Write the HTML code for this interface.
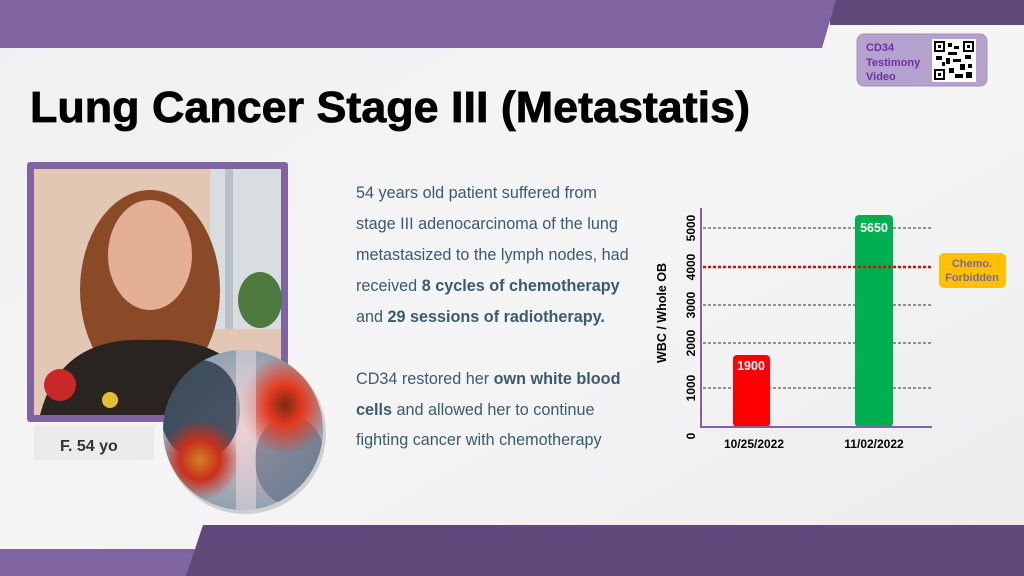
<!DOCTYPE html>
<html><head><meta charset="utf-8"><style>
html,body{margin:0;padding:0;width:1024px;height:576px;overflow:hidden;background:#f2f2f3;}
svg{display:block}
</style></head><body>
<svg width="1024" height="576" viewBox="0 0 1024 576" xmlns="http://www.w3.org/2000/svg" font-family="Liberation Sans, sans-serif">
<defs>
<linearGradient id="bg" x1="0" y1="0" x2="1" y2="1"><stop offset="0" stop-color="#f0f0f1"/><stop offset="0.5" stop-color="#f5f5f6"/><stop offset="1" stop-color="#ececee"/></linearGradient>
<radialGradient id="xr" cx="0.5" cy="0.5" r="0.5">
<stop offset="0" stop-color="#e8c0c4"/><stop offset="1" stop-color="#8fa0b0"/></radialGradient>
<radialGradient id="tum1" cx="0.5" cy="0.5" r="0.5"><stop offset="0" stop-color="#7a2a10"/><stop offset="0.4" stop-color="#e43a20"/><stop offset="1" stop-color="#e43a20" stop-opacity="0"/></radialGradient>
<radialGradient id="tum2" cx="0.5" cy="0.5" r="0.5"><stop offset="0" stop-color="#d08020"/><stop offset="0.5" stop-color="#c83020"/><stop offset="1" stop-color="#c83020" stop-opacity="0"/></radialGradient>
<clipPath id="cc"><circle cx="243" cy="430" r="80"/></clipPath>
</defs>
<rect width="1024" height="576" fill="url(#bg)"/>
<polygon points="830,0 1024,0 1024,25 830,25" fill="#604a7b"/>
<polygon points="0,0 836,0 822,48 0,48" fill="#8064a2"/>
<rect x="0" y="549" width="200" height="27" fill="#8064a2"/>
<polygon points="203,525 1024,525 1024,576 186,576" fill="#604a7b"/>
<rect x="857" y="34" width="130" height="52" rx="7" fill="#b4a1cd" stroke="#a58fc2"/>
<text font-family="Liberation Sans, sans-serif" font-weight="bold" font-size="11" fill="#7030a0"><tspan x="866" y="51">CD34</tspan><tspan x="866" y="66">Testimony</tspan><tspan x="866" y="80">Video</tspan></text>
<rect x="932" y="39" width="44" height="43" fill="#fff"/>
<g fill="#000">
<rect x="934" y="41" width="11" height="11"/><rect x="963" y="41" width="11" height="11"/><rect x="934" y="69" width="11" height="11"/>
<rect x="948" y="43" width="4" height="4"/><rect x="954" y="46" width="5" height="3"/><rect x="948" y="52" width="9" height="3"/><rect x="936" y="56" width="6" height="4"/><rect x="946" y="58" width="4" height="6"/><rect x="953" y="59" width="8" height="3"/><rect x="965" y="55" width="6" height="4"/><rect x="960" y="64" width="5" height="6"/><rect x="968" y="64" width="4" height="4"/><rect x="949" y="68" width="5" height="5"/><rect x="955" y="74" width="8" height="4"/><rect x="966" y="72" width="6" height="6"/><rect x="942" y="62" width="3" height="4"/>
</g>
<g fill="#fff"><rect x="936" y="43" width="7" height="7"/><rect x="965" y="43" width="7" height="7"/><rect x="936" y="71" width="7" height="7"/></g>
<g fill="#000"><rect x="938" y="45" width="3" height="3"/><rect x="967" y="45" width="3" height="3"/><rect x="938" y="73" width="3" height="3"/></g>
<text x="30" y="122" font-size="44" font-weight="bold" fill="#000" stroke="#000" stroke-width="0.8" textLength="720" lengthAdjust="spacingAndGlyphs">Lung Cancer Stage III (Metastatis)</text>
<rect x="27" y="162" width="261" height="260" rx="3" fill="#8064a2"/>
<rect x="34" y="169" width="247" height="246" fill="#e2c8b4"/>
<rect x="210" y="169" width="71" height="160" fill="#d8dde2"/>
<rect x="225" y="169" width="8" height="160" fill="#b8c0c8"/>
<ellipse cx="260" cy="300" rx="22" ry="28" fill="#4f7a3e"/>
<ellipse cx="150" cy="290" rx="70" ry="100" fill="#8a4a28"/>
<ellipse cx="150" cy="255" rx="42" ry="55" fill="#e3b094"/>
<path d="M40,415 Q60,335 150,340 Q240,335 265,415 Z" fill="#2a2420"/>
<circle cx="60" cy="385" r="16" fill="#c82828"/>
<circle cx="110" cy="400" r="8" fill="#e0c030"/>
<rect x="34" y="425" width="120" height="35" fill="#ebebed"/>
<text x="60" y="451" font-size="16" font-weight="bold" fill="#333">F. 54 yo</text>
<circle cx="245" cy="433" r="81" fill="#000" opacity="0.15"/>
<g clip-path="url(#cc)">
<rect x="160" y="348" width="170" height="165" fill="url(#xr)"/>
<ellipse cx="200" cy="410" rx="40" ry="50" fill="#27384a" opacity="0.8"/>
<ellipse cx="290" cy="460" rx="35" ry="45" fill="#5a6b80" opacity="0.6"/>
<ellipse cx="285" cy="405" rx="45" ry="50" fill="url(#tum1)"/>
<ellipse cx="200" cy="460" rx="40" ry="40" fill="url(#tum2)"/>
<rect x="236" y="348" width="20" height="165" fill="#f0e0e4" opacity="0.5"/>
</g>
<g font-size="16.2" fill="#3a5a70">
<text x="356" y="198">54 years old patient suffered from</text>
<text x="356" y="229">stage III adenocarcinoma of the lung</text>
<text x="356" y="260">metastasized to the lymph nodes, had</text>
<text x="356" y="291">received <tspan font-weight="bold">8 cycles of chemotherapy</tspan></text>
<text x="356" y="322">and <tspan font-weight="bold">29 sessions of radiotherapy.</tspan></text>
<text x="356" y="384">CD34 restored her <tspan font-weight="bold">own white blood</tspan></text>
<text x="356" y="415"><tspan font-weight="bold">cells</tspan> and allowed her to continue</text>
<text x="356" y="445">fighting cancer with chemotherapy</text>
</g>
<g stroke="#333" stroke-width="1" stroke-dasharray="3,2">
<line x1="703" y1="228" x2="932" y2="228"/>
<line x1="703" y1="305" x2="932" y2="305"/>
<line x1="703" y1="343" x2="932" y2="343"/>
<line x1="703" y1="388" x2="932" y2="388"/>
</g>
<rect x="733" y="355" width="37" height="72" rx="4" fill="#ff0000"/>
<rect x="855" y="215" width="38" height="212" rx="4" fill="#00b050"/>
<line x1="703" y1="267" x2="932" y2="267" stroke="#d01010" stroke-width="2.5" stroke-dasharray="3,2"/>
<polyline points="701,208 701,427 932,427" fill="none" stroke="#8064a2" stroke-width="2"/>
<text x="751" y="370" font-size="12.5" font-weight="bold" fill="#fff" text-anchor="middle">1900</text>
<text x="874" y="232" font-size="12.5" font-weight="bold" fill="#fff" text-anchor="middle">5650</text>
<g font-size="12" font-weight="bold" fill="#000" text-anchor="middle">
<text x="754" y="448">10/25/2022</text>
<text x="874" y="448">11/02/2022</text>
</g>
<g font-size="12" font-weight="bold" fill="#000" text-anchor="middle">
<text transform="translate(695,436) rotate(-90)">0</text>
<text transform="translate(695,388) rotate(-90)">1000</text>
<text transform="translate(695,343) rotate(-90)">2000</text>
<text transform="translate(695,305) rotate(-90)">3000</text>
<text transform="translate(695,267) rotate(-90)">4000</text>
<text transform="translate(695,228) rotate(-90)">5000</text>
<text transform="translate(666,313) rotate(-90)" font-size="12.5">WBC / Whole OB</text>
</g>
<rect x="939" y="253" width="67" height="35" rx="5" fill="#ffc000"/>
<g font-size="11" font-weight="bold" fill="#8064a2" text-anchor="middle">
<text x="972" y="267">Chemo.</text><text x="972" y="281">Forbidden</text>
</g>
</svg>
</body></html>
